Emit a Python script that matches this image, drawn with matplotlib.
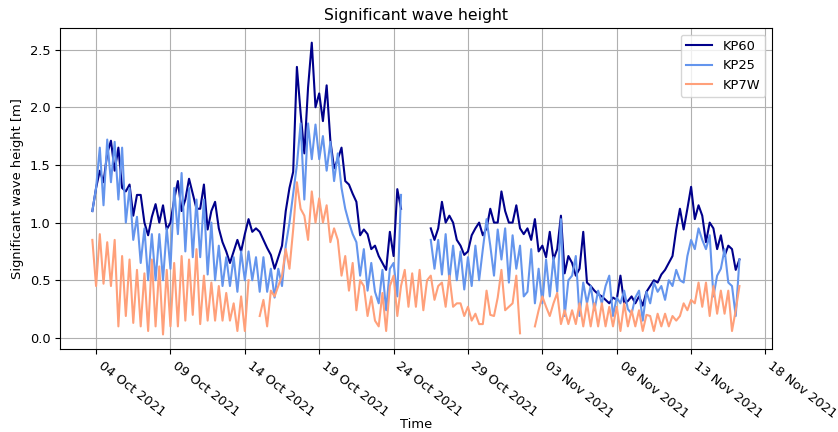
import numpy as np
import pandas as pd
import matplotlib
matplotlib.use('Agg')
import matplotlib.pyplot as plt
import matplotlib.dates as mdates

nan = np.nan

# 6-hourly samples starting 2021-10-03 18:00
kp60 = [
    1.1,
    1.3, 1.45, 1.35, 1.6,     # 04 Oct
    1.71, 1.45, 1.65, 1.3,
    1.27, 1.33, 1.06, 1.24,
    1.24, 1.0, 0.89, 1.05,
    1.16, 1.0, 1.15, 0.94,
    1.0, 1.2, 1.36, 1.1,      # 09 Oct
    1.2, 1.38, 1.25, 1.12,
    1.12, 1.33, 0.94, 1.1,
    1.18, 0.95, 0.83, 0.75,
    0.65, 0.75, 0.85, 0.75,
    0.9, 1.03, 0.92, 0.95,    # 14 Oct
    0.92, 0.85, 0.78, 0.72,
    0.6, 0.7, 0.8, 1.1,
    1.3, 1.44, 2.35, 1.95,
    1.6, 2.17, 2.56, 2.0,
    2.12, 1.88, 2.19, 1.71,   # 19 Oct
    1.47, 1.55, 1.65, 1.36,
    1.33, 1.25, 1.18, 0.89,
    0.94, 0.9, 0.77, 0.8,
    0.71, 0.65, 0.59, 0.92,
    0.71, 1.29, 1.12, nan,    # 24 Oct
    nan, nan, nan, nan,
    nan, nan, 0.95, 0.85,
    0.95, 1.18, 1.0, 1.06,
    1.0, 0.85, 0.8, 0.72,
    0.75, 0.89, 0.95, 1.0,    # 29 Oct
    0.89, 0.95, 1.12, 1.0,
    1.0, 1.27, 1.1, 1.0,
    1.0, 1.15, 0.95, 0.9,
    0.95, 0.85, 1.03, 0.75,
    0.8, 0.7, 0.92, 0.68,     # 03 Nov
    0.77, 1.06, 0.56, 0.71,
    0.65, 0.54, 0.6, 0.92,
    0.48, 0.45, 0.41, 0.38,
    0.36, 0.33, 0.3, 0.35,
    0.33, 0.54, 0.3, 0.32,    # 08 Nov
    0.36, 0.3, 0.36, 0.28,
    0.4, 0.45, 0.5, 0.48,
    0.55, 0.59, 0.65, 0.71,
    0.94, 1.12, 0.94, 1.12,
    1.31, 1.03, 1.15, 1.06,   # 13 Nov
    0.83, 1.0, 0.95, 0.77,
    0.89, 0.71, 0.8, 0.77,
    0.59, 0.68,
]

kp25 = [
    1.1,
    1.3, 1.65, 1.15, 1.72,    # 04 Oct
    1.35, 1.7, 1.2, 1.65,
    1.0, 1.3, 0.85, 1.05,
    0.65, 0.95, 0.5, 0.9,
    0.5, 0.9, 0.5, 0.95,
    0.6, 1.3, 0.9, 1.43,      # 09 Oct
    0.75, 1.3, 0.7, 1.2,
    0.7, 1.2, 0.55, 1.0,
    0.5, 0.8, 0.45, 0.7,
    0.45, 0.7, 0.4, 0.75,
    0.5, 0.75, 0.5, 0.7,      # 14 Oct
    0.4, 0.7, 0.4, 0.6,
    0.35, 0.6, 0.45, 0.8,
    1.0, 1.25, 1.5, 1.86,
    1.2, 1.86, 1.55, 1.85,
    1.55, 1.75, 1.45, 1.7,    # 19 Oct
    1.36, 1.6, 1.3, 1.12,
    1.0, 0.9, 0.83, 0.54,
    0.77, 0.41, 0.65, 0.4,
    0.3, 0.59, 0.24, 0.6,
    0.65, 0.36, 1.24, nan,    # 24 Oct
    nan, nan, nan, nan,
    nan, nan, 0.85, 0.6,
    0.85, 0.55, 0.9, 0.5,
    0.8, 0.5, 0.75, 0.42,
    0.7, 0.45, 0.8, 0.5,      # 29 Oct
    0.77, 1.03, 0.8, 0.54,
    0.94, 0.68, 0.95, 0.48,
    0.89, 0.6, 0.8, 0.36,
    0.4, 0.77, 0.3, 0.6,
    0.3, 0.68, 0.36, 0.7,     # 03 Nov
    0.4, 1.03, 0.19, 0.5,
    0.54, 0.71, 0.19, 0.48,
    0.3, 0.45, 0.24, 0.41,
    0.3, 0.45, 0.54, 0.19,
    0.35, 0.3, 0.41, 0.25,    # 08 Nov
    0.21, 0.35, 0.41, 0.15,
    0.4, 0.3, 0.48, 0.4,
    0.45, 0.33, 0.5, 0.45,
    0.59, 0.5, 0.48, 0.71,
    0.85, 0.77, 0.95, 0.85,   # 13 Nov
    0.77, 0.89, 0.36, 0.54,
    0.6, 0.77, 0.48, 0.45,
    0.19, 0.68,
]

kp7w = [
    0.85,
    0.45, 0.9, 0.47, 0.83,    # 04 Oct
    0.45, 0.85, 0.1, 0.71,
    0.19, 0.68, 0.13, 0.59,
    0.1, 0.56, 0.06, 0.68,
    0.1, 0.62, 0.03, 0.59,
    0.1, 0.65, 0.1, 0.71,     # 09 Oct
    0.15, 0.68, 0.2, 0.77,
    0.12, 0.54, 0.15, 0.48,
    0.15, 0.45, 0.15, 0.39,
    0.15, 0.3, 0.06, 0.36,
    0.06, 0.5, nan, nan,      # 14 Oct
    0.19, 0.33, 0.1, 0.41,
    0.36, 0.45, 0.54, 0.77,
    0.6, 0.94, 1.35, 1.12,
    1.06, 0.85, 1.27, 1.0,
    1.21, 1.0, 1.15, 0.83,    # 19 Oct
    0.95, 0.85, 0.54, 0.71,
    0.41, 0.65, 0.24, 0.5,
    0.45, 0.19, 0.36, 0.15,
    0.1, 0.39, 0.06, 0.45,
    0.54, 0.19, 0.45, 0.59,   # 24 Oct
    0.27, 0.56, 0.27, 0.59,
    0.24, 0.5, 0.54, 0.33,
    0.45, 0.48, 0.27, 0.54,
    0.27, 0.3, 0.3, 0.19,
    0.27, 0.15, 0.21, 0.12,   # 29 Oct
    0.12, 0.41, 0.2, 0.19,
    0.35, 0.59, 0.24, 0.27,
    0.3, 0.54, 0.04, nan,
    nan, nan, 0.1, 0.24,
    0.36, 0.27, 0.19, 0.3,    # 03 Nov
    0.39, 0.12, 0.24, 0.12,
    0.24, 0.12, 0.3, 0.1,
    0.3, 0.1, 0.3, 0.1,
    0.3, 0.1, 0.27, 0.1,
    0.27, 0.06, 0.3, 0.1,     # 08 Nov
    0.24, 0.1, 0.24, 0.06,
    0.2, 0.19, 0.06, 0.21,
    0.1, 0.21, 0.1, 0.19,
    0.15, 0.19, 0.3, 0.24,
    0.33, 0.3, 0.48, 0.27,    # 13 Nov
    0.48, 0.19, 0.45, 0.21,
    0.41, 0.21, 0.41, 0.06,
    0.24, 0.45,
]

time = pd.date_range('2021-10-03 18:00', periods=len(kp60), freq='6h')
tick_dates = pd.date_range('2021-10-04', '2021-11-18', freq='5D')

plt.rcParams['font.size'] = 9.4

fig, ax = plt.subplots(figsize=(8.38, 4.32), dpi=100)
fig.subplots_adjust(left=0.0716, right=0.921, bottom=0.192, top=0.935)

ax.plot(time, kp60, color='darkblue', label='KP60')
ax.plot(time, kp25, color='cornflowerblue', label='KP25')
ax.plot(time, kp7w, color='lightsalmon', label='KP7W')

ax.set_xticks(tick_dates)
ax.xaxis.set_major_formatter(mdates.DateFormatter('%d %b %Y'))
plt.setp(ax.get_xticklabels(), rotation=-38, ha='left')
ax.grid(True)
ax.legend(loc='upper right')
ax.set_title('Significant wave height')
ax.set_xlabel('Time')
ax.xaxis.set_label_coords(0.5, -0.215)
ax.set_ylabel('Significant wave height [m]')

fig.savefig('out.png', dpi=100)
